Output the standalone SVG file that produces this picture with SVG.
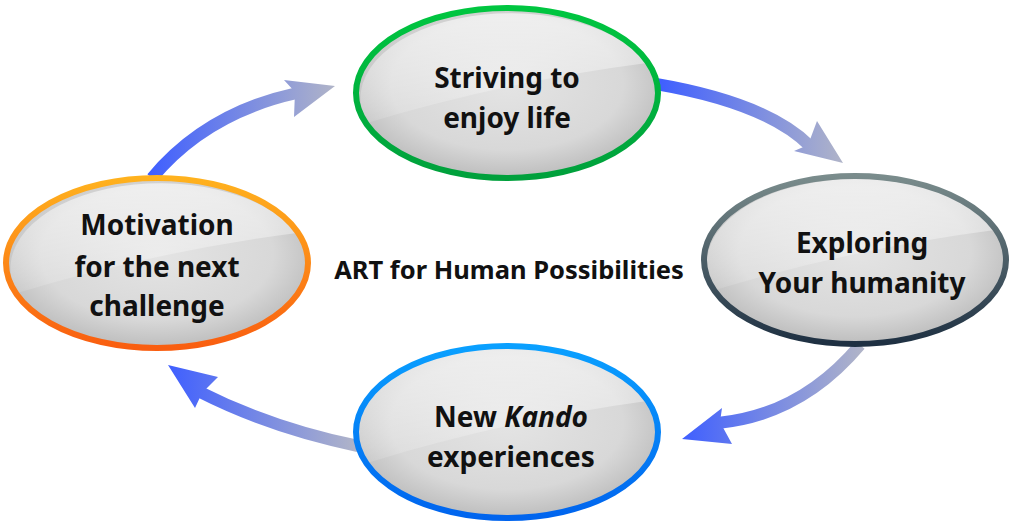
<svg xmlns="http://www.w3.org/2000/svg" width="1013" height="526" viewBox="0 0 1013 526">
<defs>
<style>
.lbl{font-family:"Noto Sans","Open Sans","DejaVu Sans",sans-serif;font-weight:700;font-size:28px;fill:#111;text-anchor:middle}
.ctr{font-family:"Noto Sans","Open Sans","DejaVu Sans",sans-serif;font-weight:700;font-size:25.5px;fill:#111;text-anchor:middle}
.body{fill:url(#bodyG)}
.hl{fill:url(#hlG)}
</style>
<radialGradient id="bodyG" cx="50%" cy="45%" r="55%">
<stop offset="0" stop-color="#e4e4e4"/>
<stop offset="0.7" stop-color="#d8d8d8"/>
<stop offset="1" stop-color="#bdbdbd"/>
</radialGradient>
<linearGradient id="hlG" x1="0" y1="0" x2="0" y2="1">
<stop offset="0" stop-color="#fff" stop-opacity="0.6"/>
<stop offset="1" stop-color="#fff" stop-opacity="0.12"/>
</linearGradient>
<linearGradient id="gGreen" x1="0" y1="0" x2="0" y2="1">
<stop offset="0" stop-color="#00c640"/>
<stop offset="1" stop-color="#00a03c"/>
</linearGradient>
<linearGradient id="gOrange" x1="0" y1="0" x2="0" y2="1">
<stop offset="0" stop-color="#ffb21e"/>
<stop offset="1" stop-color="#f95e10"/>
</linearGradient>
<linearGradient id="gDark" x1="0" y1="0" x2="0" y2="1">
<stop offset="0" stop-color="#7a8c8c"/>
<stop offset="1" stop-color="#1e3042"/>
</linearGradient>
<linearGradient id="gBlue" x1="0" y1="0" x2="0" y2="1">
<stop offset="0" stop-color="#0aa0ff"/>
<stop offset="1" stop-color="#0064ee"/>
</linearGradient>
<linearGradient id="a1" gradientUnits="userSpaceOnUse" x1="150" y1="0" x2="335" y2="0">
<stop offset="0" stop-color="#3f5fff"/>
<stop offset="1" stop-color="#b0b4c8"/>
</linearGradient>
<linearGradient id="a2" gradientUnits="userSpaceOnUse" x1="660" y1="0" x2="843" y2="0">
<stop offset="0" stop-color="#3f5fff"/>
<stop offset="1" stop-color="#b0b4c8"/>
</linearGradient>
<linearGradient id="a3" gradientUnits="userSpaceOnUse" x1="682" y1="0" x2="862" y2="0">
<stop offset="0" stop-color="#3f5fff"/>
<stop offset="1" stop-color="#b0b4c8"/>
</linearGradient>
<linearGradient id="a4" gradientUnits="userSpaceOnUse" x1="168" y1="0" x2="356" y2="0">
<stop offset="0" stop-color="#3f5fff"/>
<stop offset="1" stop-color="#b0b4c8"/>
</linearGradient>
</defs>
<rect width="1013" height="526" fill="#fff"/>

<g id="connectors" fill="none" stroke-width="12">
<g id="arrow1">
<path d="M152,178 Q206,113 297,93" stroke="url(#a1)"/>
<path d="M335,86 L284,80 L295,92 L294,117 Z" fill="url(#a1)" stroke="none"/>
</g>
<g id="arrow2">
<path d="M656,84 Q767,103 810,146" stroke="url(#a2)"/>
<path d="M843,163 L817,121 L808,145 L794,151 Z" fill="url(#a2)" stroke="none"/>
</g>
<g id="arrow3">
<path d="M860,345 Q801,415 718,423" stroke="url(#a3)"/>
<path d="M682,439 L722,408 L720,422 L732,444 Z" fill="url(#a3)" stroke="none"/>
</g>
<g id="arrow4">
<path d="M358,446 Q271,428 200,392" stroke="url(#a4)"/>
<path d="M168,365 L218,377 L202,393 L195,408 Z" fill="url(#a4)" stroke="none"/>
</g>
</g>

<g id="node-striving" transform="translate(507,93)">
<ellipse class="body" rx="151" ry="85"/>
<path class="hl" d="M-140,30 Q0,-12 140,-30 A150 85 0 0 0 -140,30 Z"/>
<ellipse rx="151" ry="85" fill="none" stroke="url(#gGreen)" stroke-width="6"/>
<text class="lbl" x="0" y="-5">Striving to</text>
<text class="lbl" x="0" y="35">enjoy life</text>
</g>

<g id="node-motivation" transform="translate(157,263)">
<ellipse class="body" rx="151" ry="85"/>
<path class="hl" d="M-140,30 Q0,-12 140,-30 A150 85 0 0 0 -140,30 Z"/>
<ellipse rx="151" ry="85" fill="none" stroke="url(#gOrange)" stroke-width="6"/>
<text class="lbl" x="0" y="-28">Motivation</text>
<text class="lbl" x="0" y="14">for the next</text>
<text class="lbl" x="0" y="53">challenge</text>
</g>

<g id="node-exploring" transform="translate(855,260)">
<ellipse class="body" rx="151" ry="84"/>
<path class="hl" d="M-140,30 Q0,-12 140,-30 A150 84 0 0 0 -140,30 Z"/>
<ellipse rx="151" ry="84" fill="none" stroke="url(#gDark)" stroke-width="6"/>
<text class="lbl" x="7" y="-7">Exploring</text>
<text class="lbl" x="7" y="33">Your humanity</text>
</g>

<g id="node-kando" transform="translate(507,432)">
<ellipse class="body" rx="151" ry="86"/>
<path class="hl" d="M-140,31 Q0,-12 140,-31 A150 86 0 0 0 -140,31 Z"/>
<ellipse rx="151" ry="86" fill="none" stroke="url(#gBlue)" stroke-width="6"/>
<text class="lbl" x="4" y="-5">New <tspan font-style="italic">Kando</tspan></text>
<text class="lbl" x="4" y="35">experiences</text>
</g>

<g id="center-label">
<text class="ctr" x="509" y="279">ART for Human Possibilities</text>
</g>
</svg>
